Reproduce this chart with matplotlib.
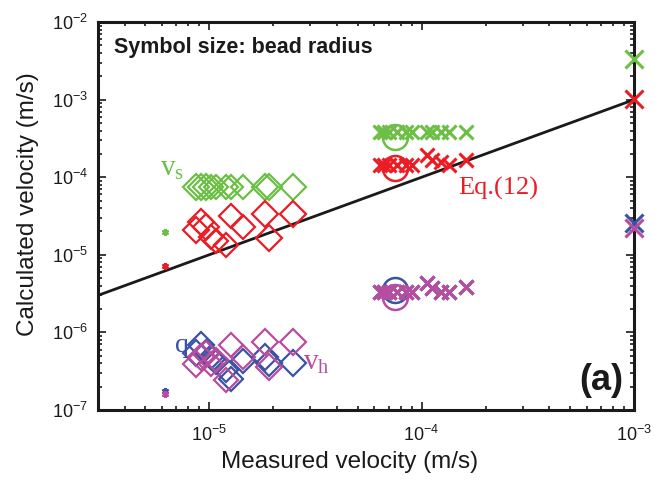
import numpy as np
import matplotlib
matplotlib.use("Agg")
import matplotlib.pyplot as plt
from matplotlib.ticker import LogLocator, NullFormatter

plt.rcParams.update({
    "font.family": ["Liberation Sans", "DejaVu Sans"],
})

GREEN = "#6cbf45"
RED = "#ec1c24"
BLUE = "#3a53a4"
MAGENTA = "#b84c9e"

# smallest beads (tiny stars)
x_small = [6.2e-6]
vs_small = [1.97e-5]
eq_small = [7.2e-6]
q_small = [1.75e-7]
vh_small = [1.6e-7]

# diamond beads
x_diam = [8.7e-6, 9.2e-6, 9.7e-6, 1.02e-5, 1.08e-5, 1.20e-5, 1.27e-5,
          1.45e-5, 1.84e-5, 1.92e-5, 2.49e-5]
vs_diam = [7.5e-5] * 11
eq_diam = [2.1e-5, 2.65e-5, 2.3e-5, 1.7e-5, 1.5e-5, 1.35e-5, 3.2e-5,
           2.3e-5, 3.4e-5, 1.65e-5, 3.4e-5]
q_diam = [5.5e-7, 6.9e-7, 5.5e-7, 4.8e-7, 4.2e-7, 3.3e-7, 2.5e-7,
          4.3e-7, 4.8e-7, 4.0e-7, 4.0e-7]
vh_diam = [3.9e-7, 4.8e-7, 5.2e-7, 3.9e-7, 4.4e-7, 2.4e-7, 6.9e-7,
           4.8e-7, 7.5e-7, 3.6e-7, 7.5e-7]
size_diam = [13.5, 13.5, 13, 12.5, 12.5, 12.5, 12.5, 12.5, 13.5, 13, 13]

# cross beads
x_cross = [6.4e-5, 6.65e-5, 7.0e-5, 7.66e-5, 8.45e-5, 9.0e-5, 1.06e-4,
           1.12e-4, 1.24e-4, 1.35e-4, 1.62e-4]
vs_cross = [3.8e-4] * 11
eq_cross = [1.44e-4, 1.44e-4, 1.44e-4, 1.44e-4, 1.44e-4, 1.44e-4, 1.93e-4,
            1.67e-4, 1.55e-4, 1.44e-4, 1.65e-4]
q_cross = [3.3e-6, 3.3e-6, 3.3e-6, 3.3e-6, 3.3e-6, 3.3e-6, 4.3e-6,
           3.7e-6, 3.3e-6, 3.3e-6, 3.8e-6]
vh_cross = [3.3e-6, 3.3e-6, 3.3e-6, 3.3e-6, 3.3e-6, 3.3e-6, 4.34e-6,
            3.7e-6, 3.3e-6, 3.3e-6, 3.8e-6]

# large bead (circle)
x_circ = [7.5e-5]
vs_circ = [3.3e-4]
eq_circ = [1.32e-4]
q_circ = [3.5e-6]
vh_circ = [2.86e-6]

# largest beads at the right edge
x_big = [1e-3]
vs_big = [3.3e-3]
eq_big = [1.02e-3]
q_big = [2.6e-5]
vh_big = [2.2e-5]

# Eq.(12) reference line
x_line = [3e-6, 1e-3]
y_line = [3e-6, 1e-3]

fig = plt.figure(figsize=(6.55, 4.91), dpi=100)
ax = fig.add_axes([0.1496, 0.165, 0.8184, 0.79])

ax.plot(x_line, y_line, color="#1a1a1a", lw=2.0, zorder=1)

series = [(vs_small, vs_diam, vs_cross, vs_circ, vs_big, GREEN),
          (eq_small, eq_diam, eq_cross, eq_circ, eq_big, RED),
          (q_small, q_diam, q_cross, q_circ, q_big, BLUE),
          (vh_small, vh_diam, vh_cross, vh_circ, vh_big, MAGENTA)]

for ys, yd, yc, yo, yb, col in series:
    ax.plot(x_small, ys, ls="none", marker=(6, 2, 0), ms=5, mew=1.6,
            color=col, zorder=3)
    for xi, yi, si in zip(x_diam, yd, size_diam):
        ax.plot([xi], [yi], ls="none", marker="D", ms=si, mfc="none",
                mec=col, mew=1.6, zorder=3)
    ax.plot(x_cross, yc, ls="none", marker="x", ms=10, mew=2.2,
            color=col, zorder=3)
    ax.plot(x_circ, yo, ls="none", marker="o", ms=18, mfc="none",
            mec=col, mew=1.8, zorder=3)
    ax.plot(x_big, yb, ls="none", marker="x", ms=13, mew=2.2,
            color=col, zorder=4, clip_on=False)

ax.set_xscale("log")
ax.set_yscale("log")
ax.set_xlim(3e-6, 1e-3)
ax.set_ylim(1e-7, 1e-2)

for a in (ax.xaxis, ax.yaxis):
    a.set_major_locator(LogLocator(base=10, numticks=12))
    a.set_minor_locator(LogLocator(base=10, subs=np.arange(2, 10), numticks=12))
    a.set_minor_formatter(NullFormatter())
ax.tick_params(which="both", direction="in", top=True, right=True,
               labelsize=13, colors="#1a1a1a", width=1.2)
ax.tick_params(which="major", length=6, pad=7)
ax.tick_params(axis="x", which="major", pad=11)
ax.tick_params(which="minor", length=3)
for s in ax.spines.values():
    s.set_linewidth(2.2)
    s.set_color("#1a1a1a")

ax.set_xlabel("Measured velocity (m/s)", fontsize=17.5, color="#1a1a1a")
ax.set_ylabel("Calculated velocity (m/s)", fontsize=17.5, color="#1a1a1a")
ax.xaxis.set_label_coords(0.47, -0.105)
ax.yaxis.set_label_coords(-0.11, 0.53)

ax.text(0.03, 0.935, "Symbol size: bead radius", transform=ax.transAxes,
        fontsize=15.5, fontweight="bold", color="#1a1a1a", va="center")
ax.text(0.98, 0.075, "(a)", transform=ax.transAxes, fontsize=26,
        fontweight="bold", color="#1a1a1a", ha="right", va="center")

serif = ["Liberation Serif", "DejaVu Serif"]
ax.text(5.9e-6, 1.03e-4, r"$\mathdefault{v_{s}}$", family=serif, fontsize=21, color=GREEN)
ax.text(1.49e-4, 5.9e-5, "Eq.(12)", family=serif, fontsize=19, color=RED)
ax.text(6.9e-6, 5.6e-7, "q", family=serif, fontsize=20, color=BLUE)
ax.text(2.78e-5, 3.27e-7, r"$\mathdefault{v_{h}}$", family=serif, fontsize=21, color=MAGENTA)

fig.savefig("out.png", dpi=100)
